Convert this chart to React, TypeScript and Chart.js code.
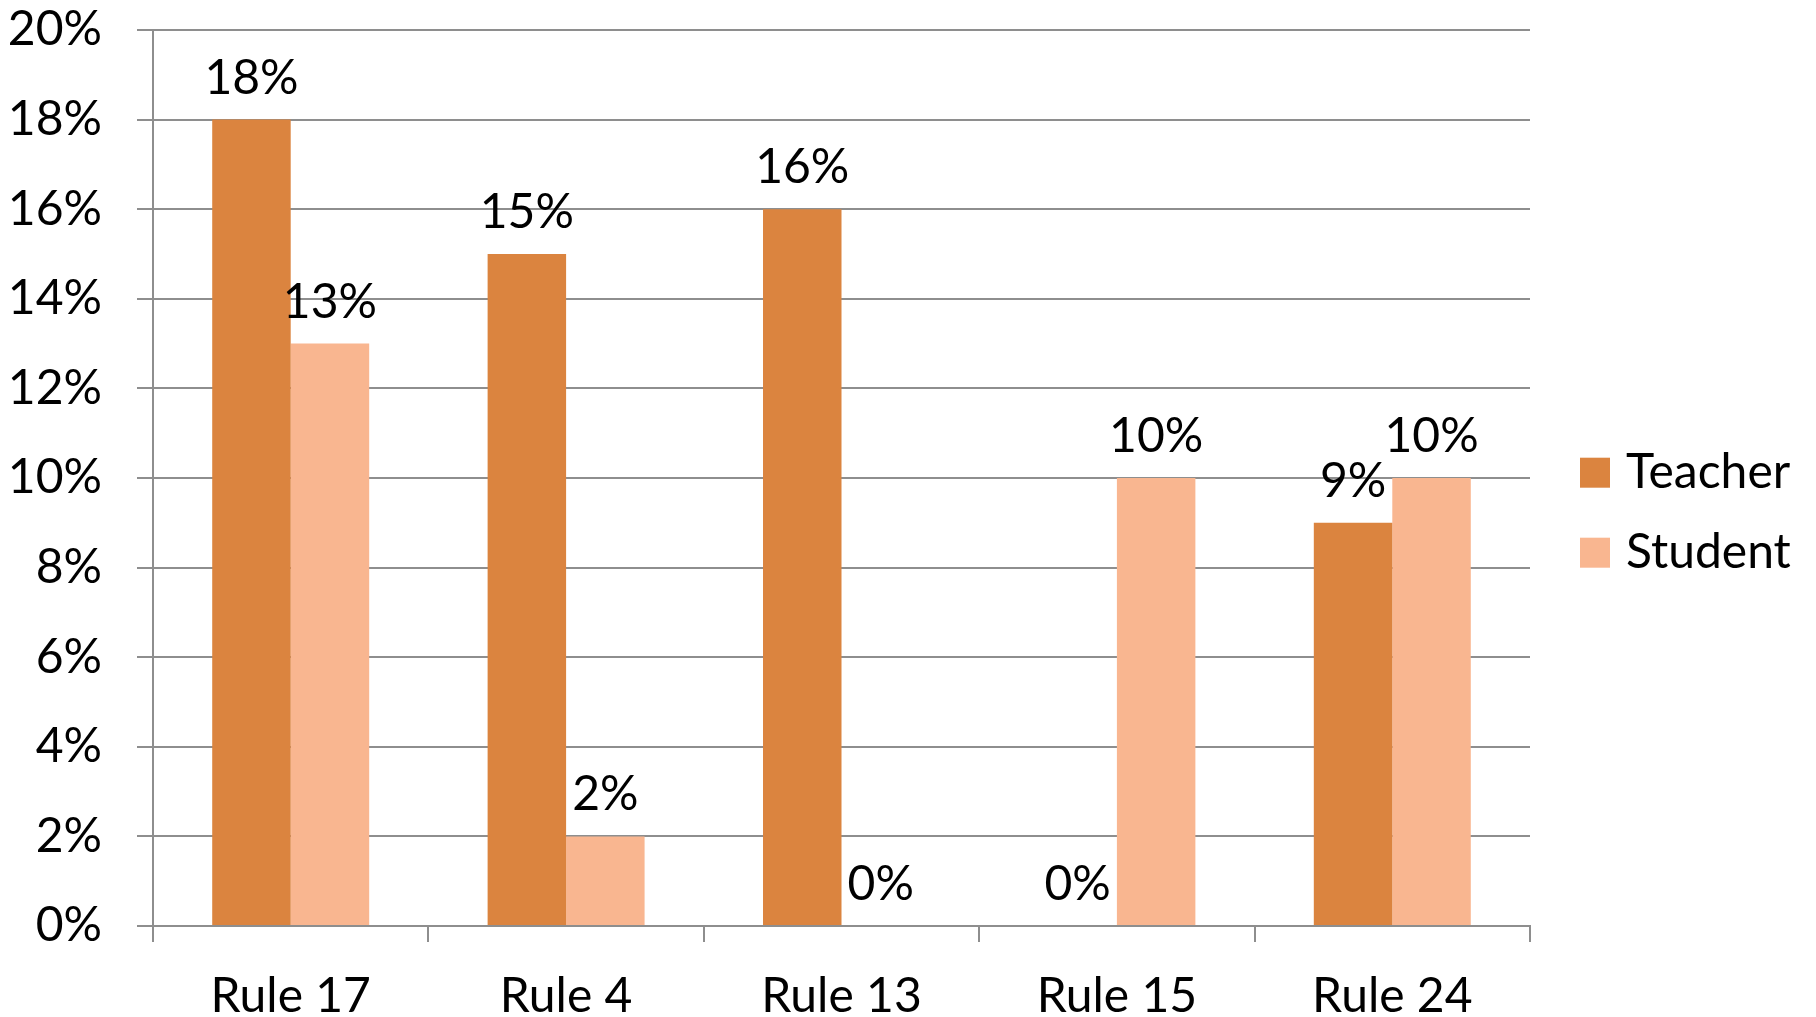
import React, { useEffect, useRef } from "react";
import { Chart, registerables } from "chart.js";

Chart.register(...registerables);

const categories = ["Rule 17", "Rule 4", "Rule 13", "Rule 15", "Rule 24"];
const teacherValues = [18, 15, 16, 0, 9];
const studentValues = [13, 2, 0, 10, 10];
const seriesNames = ["Teacher", "Student"];
const yTicks = [0, 2, 4, 6, 8, 10, 12, 14, 16, 18, 20];

const TEACHER_COLOR = "#DB843F";
const STUDENT_COLOR = "#F9B690";
const GRID_COLOR = "#8E8E8E";
const FONT_FAMILY = "Lato, 'Open Sans', sans-serif";
const FONT_SIZE = 48;

const dataLabelPlugin = {
  id: "dataLabels",
  afterDatasetsDraw(chart: any) {
    const ctx = chart.ctx;
    ctx.save();
    ctx.font = `${FONT_SIZE}px ${FONT_FAMILY}`;
    ctx.fillStyle = "#000";
    ctx.textAlign = "center";
    ctx.textBaseline = "alphabetic";
    chart.data.datasets.forEach((ds: any, i: number) => {
      const meta = chart.getDatasetMeta(i);
      meta.data.forEach((el: any, j: number) => {
        const v = ds.data[j];
        ctx.fillText(`${v}%`, el.x, el.y - 26);
      });
    });
    ctx.restore();
  },
};

const legendPlugin = {
  id: "customLegend",
  afterDraw(chart: any) {
    const ctx = chart.ctx;
    ctx.save();
    ctx.font = `${FONT_SIZE}px ${FONT_FAMILY}`;
    ctx.textAlign = "left";
    ctx.textBaseline = "alphabetic";
    const x0 = 1580;
    const y0 = 457.7;
    const rowGap = 80;
    chart.data.datasets.forEach((ds: any, i: number) => {
      const y = y0 + i * rowGap;
      ctx.fillStyle = ds.backgroundColor;
      ctx.fillRect(x0, y, 30, 30);
      ctx.fillStyle = "#000";
      ctx.fillText(ds.label, x0 + 46, y + 30);
    });
    ctx.restore();
  },
};

export default function App() {
  const canvasRef = useRef<HTMLCanvasElement | null>(null);

  useEffect(() => {
    if (!canvasRef.current) return;
    const chart = new Chart(canvasRef.current, {
      type: "bar",
      data: {
        labels: categories,
        datasets: [
          {
            label: seriesNames[0],
            data: teacherValues,
            backgroundColor: TEACHER_COLOR,
            borderWidth: 0,
          },
          {
            label: seriesNames[1],
            data: studentValues,
            backgroundColor: STUDENT_COLOR,
            borderWidth: 0,
          },
        ],
      },
      options: {
        animation: false,
        responsive: false,
        maintainAspectRatio: false,
        devicePixelRatio: 1,
        layout: {
          padding: { top: 30, right: 286, left: 0, bottom: 0 },
        },
        datasets: {
          bar: {
            barPercentage: 1,
            categoryPercentage: 0.57,
          },
        },
        plugins: {
          legend: { display: false },
          tooltip: { enabled: false },
          title: { display: false },
        },
        scales: {
          x: {
            offset: true,
            grid: {
              display: true,
              drawOnChartArea: false,
              drawTicks: true,
              tickLength: 16,
              color: GRID_COLOR,
              lineWidth: 2,
              offset: true,
            },
            border: { display: true, color: GRID_COLOR, width: 2 },
            ticks: {
              color: "#000",
              font: { family: FONT_FAMILY, size: FONT_SIZE },
              padding: 26,
              maxRotation: 0,
              autoSkip: false,
            },
            afterFit(scale: any) {
              scale.height = 91;
              scale.paddingLeft = 0;
              scale.paddingRight = 0;
            },
          },
          y: {
            min: 0,
            max: 20,
            afterBuildTicks(scale: any) {
              scale.ticks = yTicks.map((v) => ({ value: v }));
            },
            grid: {
              color: GRID_COLOR,
              lineWidth: 2,
              drawTicks: true,
              tickLength: 16,
            },
            border: { display: true, color: GRID_COLOR, width: 2 },
            ticks: {
              color: "#000",
              font: { family: FONT_FAMILY, size: FONT_SIZE, lineHeight: 1 },
              padding: 35,
              callback: (v: any) => `${v}%`,
            },
            afterFit(scale: any) {
              scale.width = 153;
              scale.paddingTop = 0;
              scale.paddingBottom = 0;
            },
          },
        },
      },
      plugins: [dataLabelPlugin, legendPlugin],
    });
    return () => chart.destroy();
  }, []);

  return (
    <div
      style={{
        position: "fixed",
        left: 0,
        top: 0,
        width: 1816,
        height: 1017,
        background: "#fff",
      }}
    >
      <canvas ref={canvasRef} width={1816} height={1017} style={{ width: 1816, height: 1017, display: "block" }} />
    </div>
  );
}
